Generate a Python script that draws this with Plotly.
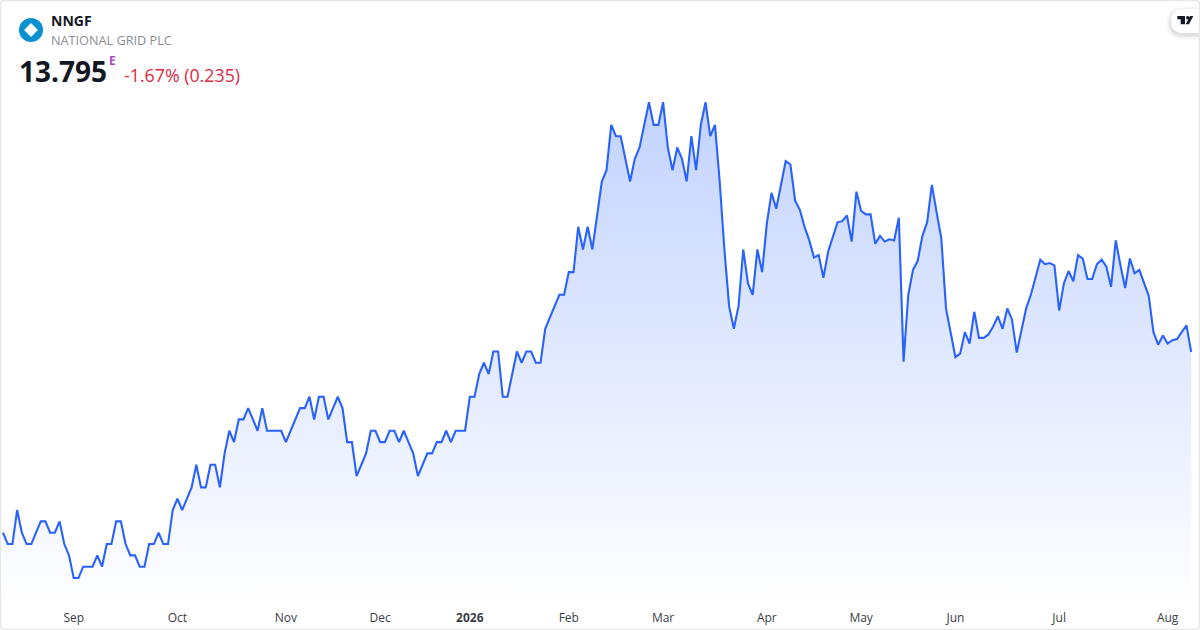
import plotly.graph_objects as go

W = 1200
H = 630

# daily closes
closes = [
    12.2, 12.1, 12.1, 12.4, 12.2, 12.1, 12.1, 12.2, 12.3, 12.3,
    12.2, 12.2, 12.3, 12.1, 12.0, 11.8, 11.8, 11.9, 11.9, 11.9,
    12.0, 11.9, 12.1, 12.1, 12.3, 12.3, 12.1, 12.0, 12.0, 11.9,
    11.9, 12.1, 12.1, 12.2, 12.1, 12.1, 12.4, 12.5, 12.4, 12.5,
    12.6, 12.8, 12.6, 12.6, 12.8, 12.8, 12.6, 12.9, 13.1, 13.0,
    13.2, 13.2, 13.3, 13.2, 13.1, 13.3, 13.1, 13.1, 13.1, 13.1,
    13.0, 13.1, 13.2, 13.3, 13.3, 13.4, 13.2, 13.4, 13.4, 13.2,
    13.3, 13.4, 13.3, 13.0, 13.0, 12.7, 12.8, 12.9, 13.1, 13.1,
    13.0, 13.0, 13.1, 13.1, 13.0, 13.1, 13.0, 12.9, 12.7, 12.8,
    12.9, 12.9, 13.0, 13.0, 13.1, 13.0, 13.1, 13.1, 13.1, 13.4,
    13.4, 13.6, 13.7, 13.6, 13.8, 13.8, 13.4, 13.4, 13.6, 13.8,
    13.7, 13.8, 13.8, 13.7, 13.7, 14.0, 14.1, 14.2, 14.3, 14.3,
    14.5, 14.5, 14.9, 14.7, 14.9, 14.7, 15.0, 15.3, 15.4, 15.8,
    15.7, 15.7, 15.5, 15.3, 15.5, 15.6, 15.8, 16.0, 15.8, 15.8,
    16.0, 15.6, 15.4, 15.6, 15.5, 15.3, 15.7, 15.4, 15.8, 16.0,
    15.7, 15.8, 15.3, 14.7, 14.2, 14.0, 14.2, 14.7, 14.4, 14.3,
    14.7, 14.5, 14.93, 15.2, 15.06, 15.28, 15.48, 15.45, 15.13, 15.05,
    14.9, 14.78, 14.63, 14.65, 14.45, 14.68, 14.81, 14.94, 14.95, 15.0,
    14.77, 15.21, 15.04, 15.01, 15.01, 14.75, 14.82, 14.77, 14.79, 14.78,
    14.98, 13.71, 14.3, 14.52, 14.6, 14.82, 14.94, 15.27, 15.03, 14.8,
    14.18, 13.97, 13.75, 13.78, 13.97, 13.87, 14.15, 13.92, 13.92, 13.95,
    14.02, 14.11, 14.0, 14.18, 14.08, 13.79, 14.0, 14.18, 14.3, 14.46,
    14.61, 14.57, 14.58, 14.56, 14.16, 14.4, 14.51, 14.42, 14.65, 14.62,
    14.44, 14.44, 14.57, 14.61, 14.55, 14.37, 14.78, 14.56, 14.36, 14.62,
    14.49, 14.52, 14.41, 14.29, 13.97, 13.86, 13.94, 13.87, 13.9, 13.91,
    13.97, 14.03, 13.795,
]
sessions = list(range(len(closes)))

tick_sessions = [15, 37, 60, 80, 99, 120, 140, 162, 182, 202, 224, 247]
tick_labels = ['Sep', 'Oct', 'Nov', 'Dec', '<b>2026</b>', 'Feb', 'Mar', 'Apr', 'May', 'Jun', 'Jul', 'Aug']

LINE = '#2962FF'
FONT = 'Open Sans'


def px_path(points, close=True):
    # pixel points -> svg path in paper coordinates
    parts = []
    for n, (x, y) in enumerate(points):
        parts.append(('M' if n == 0 else 'L') + f'{x / W:.5f},{1 - y / H:.5f}')
    return ' '.join(parts) + (' Z' if close else '')


def pill(x0, y0, x1, y1, r):
    # rounded on the left side only, the right side runs off the card
    xa, xb = x0 / W, x1 / W
    ya, yb = 1 - y0 / H, 1 - y1 / H
    rx, ry = r / W, r / H
    return (f'M{xa + rx:.5f},{ya:.5f} L{xb:.5f},{ya:.5f} L{xb:.5f},{yb:.5f} L{xa + rx:.5f},{yb:.5f} '
            f'Q{xa:.5f},{yb:.5f} {xa:.5f},{yb + ry:.5f} L{xa:.5f},{ya - ry:.5f} '
            f'Q{xa:.5f},{ya:.5f} {xa + rx:.5f},{ya:.5f} Z')


def round_rect(x0, y0, x1, y1, r):
    xa, xb = x0 / W, x1 / W
    ya, yb = 1 - y0 / H, 1 - y1 / H
    rx, ry = r / W, r / H
    return (f'M{xa + rx:.5f},{ya:.5f} L{xb - rx:.5f},{ya:.5f} Q{xb:.5f},{ya:.5f} {xb:.5f},{ya - ry:.5f} '
            f'L{xb:.5f},{yb + ry:.5f} Q{xb:.5f},{yb:.5f} {xb - rx:.5f},{yb:.5f} '
            f'L{xa + rx:.5f},{yb:.5f} Q{xa:.5f},{yb:.5f} {xa:.5f},{yb + ry:.5f} '
            f'L{xa:.5f},{ya - ry:.5f} Q{xa:.5f},{ya:.5f} {xa + rx:.5f},{ya:.5f} Z')


shapes = []

# soft shadow of the badge
for grow, alpha in [(5, 0.012), (4, 0.018), (3, 0.025), (2, 0.03), (1, 0.035)]:
    shapes.append(dict(type='path', xref='paper', yref='paper', layer='above',
                       path=pill(1171 - grow, 9 - grow + 2, 1200, 33 + grow + 2, 12 + grow),
                       fillcolor=f'rgba(0,0,0,{alpha})', line=dict(width=0)))
shapes.append(dict(type='path', xref='paper', yref='paper', layer='above',
                   path=pill(1171, 9, 1200, 33, 12), fillcolor='white', line=dict(width=0)))
# tv glyph
shapes.append(dict(type='path', xref='paper', yref='paper', layer='above',
                   path=px_path([(1177.3, 16), (1185, 16), (1185, 24.3), (1180.7, 24.3), (1180.7, 19.3), (1177.3, 19.3)]),
                   fillcolor='#131722', line=dict(width=0)))
shapes.append(dict(type='path', xref='paper', yref='paper', layer='above',
                   path=px_path([(1185.7, 24.3), (1190, 16), (1193.3, 16), (1189, 24.3)]),
                   fillcolor='#131722', line=dict(width=0)))
shapes.append(dict(type='circle', xref='paper', yref='paper', layer='above',
                   x0=1186 / W, x1=1189.4 / W, y0=1 - 19.4 / H, y1=1 - 16 / H,
                   fillcolor='#131722', line=dict(width=0)))

# company logo
shapes.append(dict(type='circle', xref='paper', yref='paper', layer='above',
                   x0=19 / W, x1=43 / W, y0=1 - 42 / H, y1=1 - 18 / H,
                   fillcolor='#0A8FD0', line=dict(width=0)))
shapes.append(dict(type='path', xref='paper', yref='paper', layer='above',
                   path=px_path([(31, 24.5), (36.5, 30), (31, 35.5), (25.5, 30)]),
                   fillcolor='white', line=dict(color='white', width=2)))

# card frame
shapes.append(dict(type='path', xref='paper', yref='paper', layer='above',
                   path=round_rect(0.5, 0.5, 1199.5, 629.5, 4),
                   fillcolor='rgba(0,0,0,0)', line=dict(color='#E8E8E8', width=1.5)))


def label(text, x, y, size, color, anchor='left'):
    return dict(text=text, x=x / W, y=1 - y / H, xref='paper', yref='paper', xanchor=anchor, yanchor='middle',
                showarrow=False, align='left', borderpad=0,
                font=dict(family=FONT, size=size, color=color))


annotations = [
    label('<b>NNGF</b>', 50, 21, 14, '#131722'),
    label('NATIONAL GRID PLC', 50, 40.5, 12.7, '#8A8E97'),
    label('<b>13.795</b>', 18, 71, 28, '#131722'),
    label('<b>E</b>', 108, 61, 12, '#AB47BC'),
    label('-1.67% (0.235)', 123, 75, 17.8, '#DC2A3F'),
]

fig = go.Figure()

fig.add_trace(go.Scatter(
    x=sessions,
    y=closes,
    mode='lines',
    line=dict(color=LINE, width=2.1),
    fill='tozeroy',
    fillgradient=dict(
        type='vertical',
        start=11.56,
        stop=16.0,
        colorscale=[[0, 'rgba(41,98,255,0)'], [1, 'rgba(41,98,255,0.28)']],
    ),
    hoverinfo='skip',
    showlegend=False,
))

fig.update_layout(
    width=W,
    height=H,
    margin=dict(l=0, r=0, t=0, b=0),
    paper_bgcolor='white',
    plot_bgcolor='white',
    font=dict(family=FONT),
    showlegend=False,
    shapes=shapes,
    annotations=annotations,
    xaxis=dict(
        range=[-0.636, 253.87],
        tickmode='array',
        tickvals=tick_sessions,
        ticktext=tick_labels,
        tickfont=dict(family=FONT, size=12, color='#3A3D45'),
        showgrid=False,
        zeroline=False,
        showline=False,
        ticks='outside',
        ticklen=2,
        tickcolor='rgba(0,0,0,0)',
    ),
    yaxis=dict(
        domain=[25 / H, 1],
        range=[11.562, 16.902],
        visible=False,
        showgrid=False,
        zeroline=False,
    ),
)

fig.write_html("out.html", config=dict(displayModeBar=False), post_script="document.body.style.margin='0'")
